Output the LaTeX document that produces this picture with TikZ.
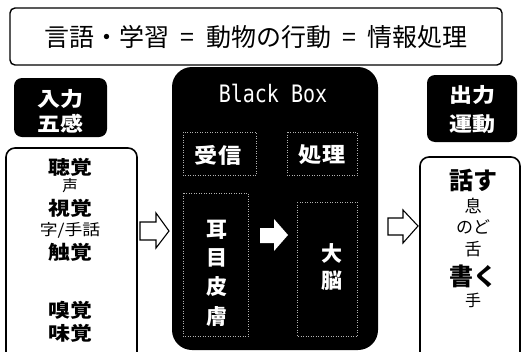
\documentclass[tikz,border=0pt]{standalone}
\usepackage{graphicx}
\usepackage{fontspec}
\setmainfont{Noto Sans CJK JP}
\newfontfamily\monof{DejaVu Sans Mono}
\newcommand{\wide}[2]{\scalebox{#1}[1]{#2}}
\begin{document}
\begin{tikzpicture}[x=1pt,y=-1pt,
  whitebox/.style={draw=black,line width=1.6pt,rounded corners=9pt,fill=white},
  blackbox/.style={fill=black,rounded corners=8pt},
  panel/.style={draw=gray!60,dotted,line width=0.5pt},
  txt/.style={inner sep=0pt,align=center},
  big/.style={txt,font=\fontsize{19}{19}\selectfont\bfseries},
  small/.style={txt,font=\fontsize{15.5}{15.5}\selectfont},
  wbig/.style={txt,text=white,font=\fontsize{21}{21}\selectfont\bfseries},
  hollowarrow/.style={draw=black,line width=1.1pt,fill=white,line join=miter},
  every node/.style={inner sep=0pt}]
\useasboundingbox (0,0) rectangle (521,351);
\clip (0,0) rectangle (521,351);
\fill[white] (0,0) rectangle (521,351);
% title
\draw[line width=1.4pt,rounded corners=5pt] (10,8) rectangle (502,65);
\node[txt,font=\fontsize{25}{25}\selectfont] (title) at (256,37) {言語・学習\ \ =\ \ 動物の行動\ \ =\ \ 情報処理};
% left side
\fill[blackbox] (14,78) rectangle (107,137);
\node[wbig,font=\fontsize{20}{20}\selectfont\bfseries] (in1) at (60.5,99) {\wide{1.15}{入力}};
\node[wbig,font=\fontsize{20}{20}\selectfont\bfseries] (in2) at (60.5,124) {\wide{1.15}{五感}};
\draw[whitebox] (6,148) rectangle (137,362);
\node[big] (a1) at (70,167) {\wide{1.15}{聴覚}};
\node[small] (a2) at (70,186) {声};
\node[big] (a3) at (70,208) {\wide{1.15}{視覚}};
\node[small] (a4) at (70,230) {\wide{1.15}{字/手話}};
\node[big] (a5) at (70,252) {\wide{1.15}{触覚}};
\node[big] (a6) at (70,310) {\wide{1.15}{嗅覚}};
\node[big] (a7) at (70,333) {\wide{1.15}{味覚}};
% left hollow arrow
\draw[hollowarrow] (140,222) -- (156,222) -- (156,213) -- (169,231) -- (156,248) -- (156,240) -- (140,240) -- cycle;
% black box
\fill[black,rounded corners=20pt] (172,67) rectangle (378,350);
\node[txt,text=white,font=\monof\fontsize{20}{20}\selectfont] (bb) at (273,93) {\scalebox{1}[1.2]{Black Box}};
\draw[panel] (183,132) rectangle (256,175);
\draw[panel] (287,132) rectangle (357,175);
\draw[panel] (183,193) rectangle (248,336);
\draw[panel] (297,202) rectangle (357,336);
\node[wbig] (r1) at (218,155) {\wide{1.1}{受信}};
\node[wbig] (r2) at (322,155) {\wide{1.1}{処理}};
\node[wbig] (e1) at (217,230) {耳};
\node[wbig] (e2) at (217,258) {目};
\node[wbig] (e3) at (217,287) {皮};
\node[wbig] (e4) at (217,317) {膚};
\fill[white] (260,228) -- (274,228) -- (274,219) -- (288,235) -- (274,251) -- (274,243) -- (260,243) -- cycle;
\node[wbig] (b1) at (332,253) {大};
\node[wbig] (b2) at (332,281) {脳};
% right hollow arrow
\draw[hollowarrow] (388,218) -- (403,218) -- (403,210) -- (418,226) -- (403,243) -- (403,235) -- (388,235) -- cycle;
% right side
\fill[blackbox] (427,75) rectangle (517,142);
\node[wbig,font=\fontsize{20}{20}\selectfont\bfseries] (out1) at (472,95) {\wide{1.15}{出力}};
\node[wbig,font=\fontsize{20}{20}\selectfont\bfseries] (out2) at (472,124) {\wide{1.15}{運動}};
\draw[whitebox] (420,157) rectangle (520,362);
\node[txt,font=\fontsize{24}{24}\selectfont\bfseries] (o1) at (473,180) {話す};
\node[txt,font=\fontsize{17}{17}\selectfont] (o2) at (473,206) {息};
\node[txt,font=\fontsize{17}{17}\selectfont] (o3) at (473,227) {のど};
\node[txt,font=\fontsize{17}{17}\selectfont] (o4) at (473,249) {舌};
\node[txt,font=\fontsize{24}{24}\selectfont\bfseries] (o5) at (473,276) {書く};
\node[txt,font=\fontsize{16}{16}\selectfont] (o6) at (473,300) {手};
\end{tikzpicture}
\end{document}
